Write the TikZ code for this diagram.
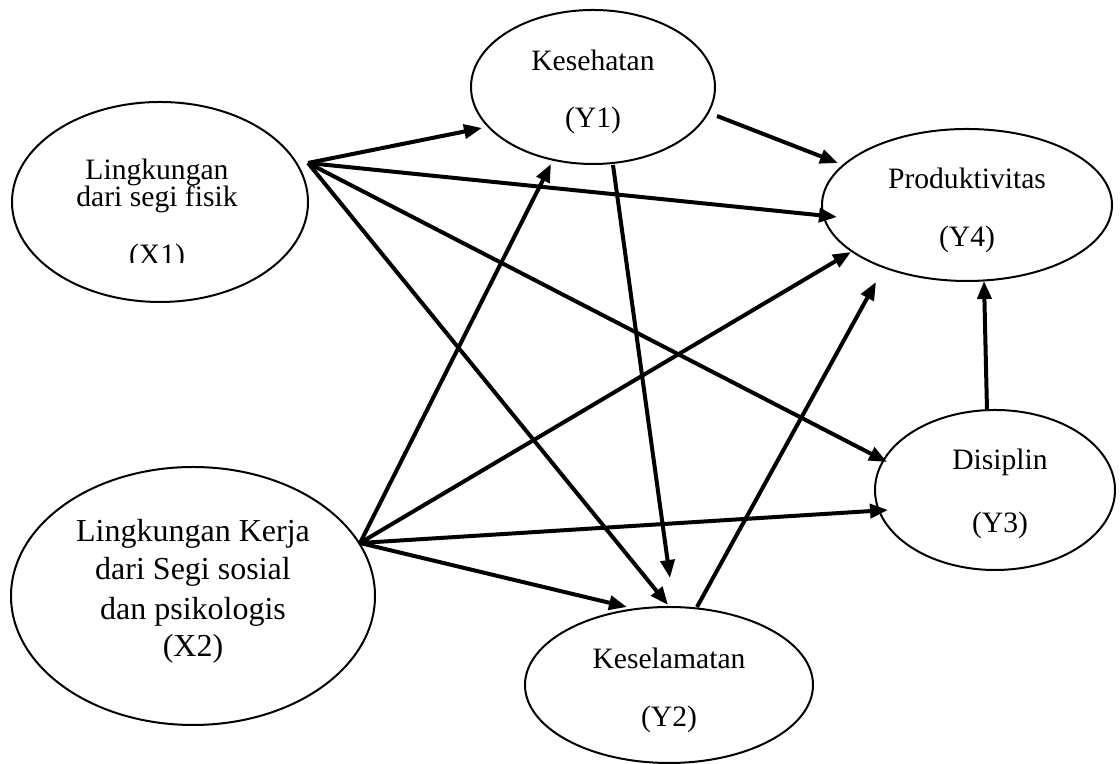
\documentclass[tikz,border=0pt]{standalone}
\usepackage{fontspec}
\setmainfont{Liberation Serif}
\usetikzlibrary{arrows.meta,calc,shapes.geometric}
\begin{document}
\begin{tikzpicture}[x=0.5pt,y=0.5pt,
  ell/.style={draw,ellipse,line width=1pt,inner sep=0pt},
  lbl/.style={font=\fontsize{14.8}{17}\selectfont,anchor=base,inner sep=0pt},
  lblbig/.style={lbl,font=\fontsize{16}{18}\selectfont},
  arr/.style={line width=2pt,-{Triangle[length=9pt,width=7pt]}}]
\useasboundingbox (0,0) rectangle (1120,764);
% ellipses
\node[ell,minimum width=148pt,minimum height=100pt] (X1) at (160,562) {};
\node[ell,minimum width=122pt,minimum height=77pt] (Y1) at (593,677) {};
\node[ell,minimum width=145pt,minimum height=76pt] (Y4) at (967,559) {};
\node[ell,minimum width=120pt,minimum height=80pt] (Y3) at (995,274) {};
\node[ell,minimum width=182pt,minimum height=129pt] (X2) at (193,168) {};
\node[ell,minimum width=144pt,minimum height=78pt] (Y2) at (669,79) {};
% texts
\node[lbl] (X1a) at (157,584) {Lingkungan};
\node[lbl] (X1b) at (157,557) {dari segi fisik};
\begin{scope}
  \clip (0,501) rectangle (320,700);
  \node[lbl] (X1c) at (157,499) {(X1)};
\end{scope}
\node[lbl] (Y1a) at (593,693) {Kesehatan};
\node[lbl] (Y1b) at (593,636) {(Y1)};
\node[lbl] (Y4a) at (967,575) {Produktivitas};
\node[lbl] (Y4b) at (967,517) {(Y4)};
\node[lbl] (Y3a) at (1000,294) {Disiplin};
\node[lbl] (Y3b) at (1000,231) {(Y3)};
\node[lblbig] (X2a) at (193,222) {Lingkungan Kerja};
\node[lblbig] (X2b) at (193,184) {dari Segi sosial};
\node[lblbig] (X2c) at (193,144) {dan psikologis};
\node[lblbig] (X2d) at (193,107) {(X2)};
\node[lbl] (Y2a) at (669,95) {Keselamatan};
\node[lbl] (Y2b) at (669,37) {(Y2)};
% hubs
\coordinate (X1h) at ($(X1)+(148,39)$);
\coordinate (X2h) at ($(X2)+(167,53)$);
% connectors from X1
\draw[arr] (X1h) -- ($(Y1)+(-111,-41)$);
\draw[arr] (X1h) -- ($(Y4)+(-130,-12)$);
\draw[arr] (X1h) -- ($(Y3)+(-108,28)$);
\draw[arr] (X1h) -- ($(Y2)+(-1,80)$);
% connectors from X2
\draw[arr] (X2h) -- ($(Y1)+(-42,-77)$);
\draw[arr] (X2h) -- ($(Y4)+(-116,-47)$);
\draw[arr] (X2h) -- ($(Y3)+(-107,-20)$);
\draw[arr] (X2h) -- ($(Y2)+(-42,78)$);
% other connectors
\draw[arr] ($(Y1)+(124,-29)$) -- ($(Y4)+(-129,42)$);
\draw[arr] ($(Y1)+(20,-78)$) -- ($(Y2)+(1,107)$);
\draw[arr] ($(Y2)+(28,78)$) -- ($(Y4)+(-91,-77)$);
\draw[arr] ($(Y3)+(-8,80)$) -- ($(Y4)+(17,-76)$);
\end{tikzpicture}
\end{document}
